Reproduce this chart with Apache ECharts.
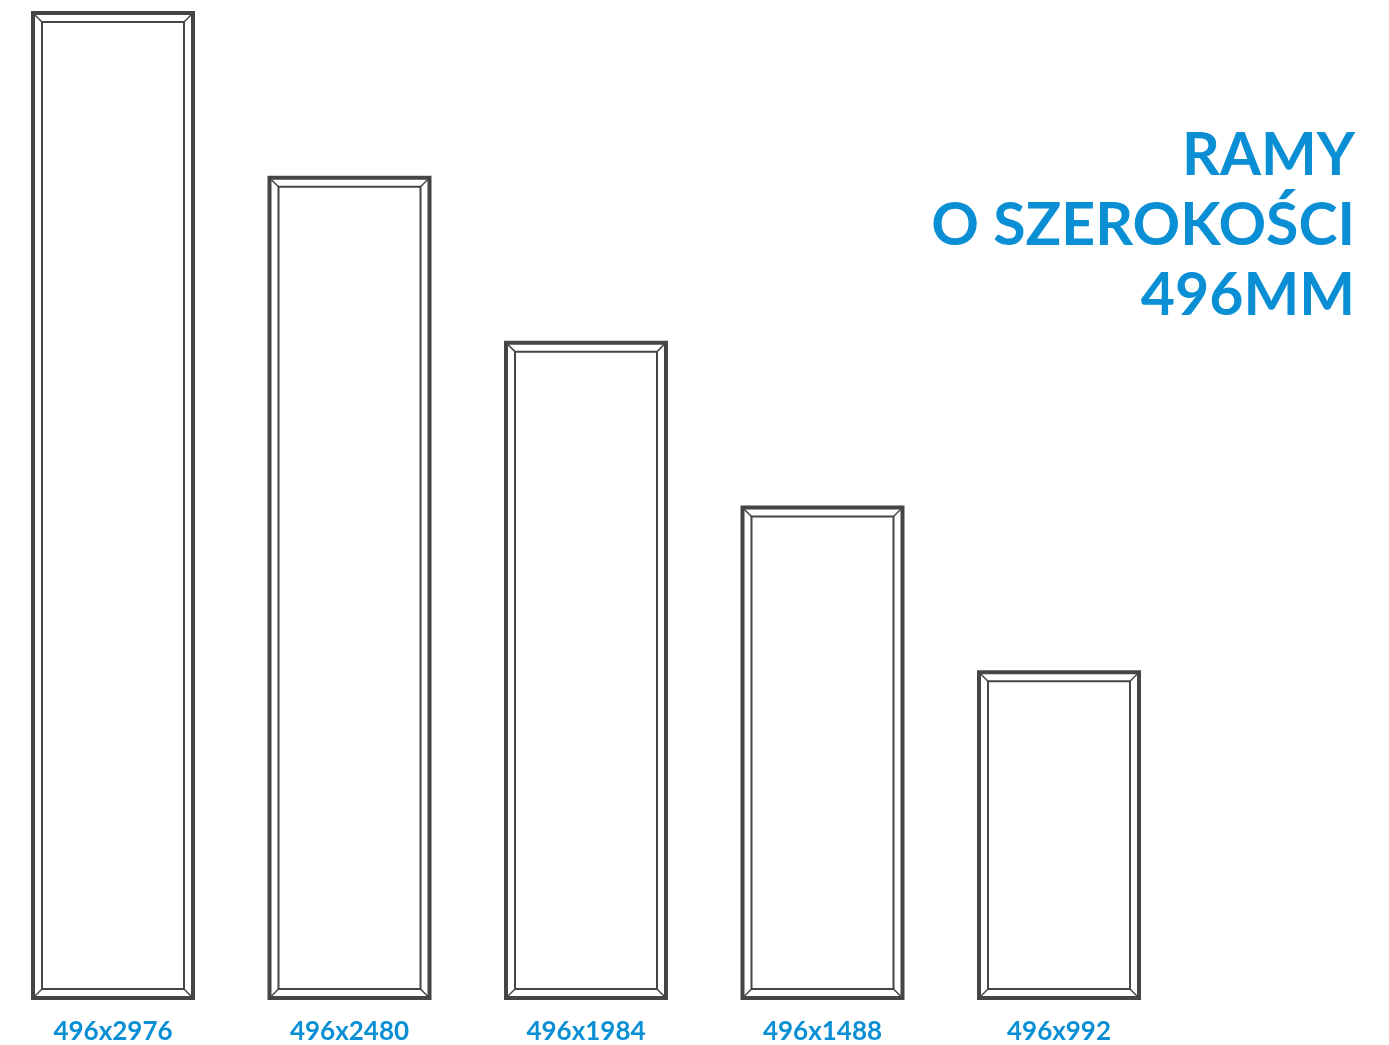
<!DOCTYPE html>
<html lang="pl">
<head>
    <meta charset="UTF-8">
    <title>Ramy o szerokości 496mm</title>
    <script src="https://cdn.jsdelivr.net/npm/echarts@6/dist/echarts.min.js"></script>
    <style>
        html, body { margin: 0; padding: 0; background: #fff; }
        #main { width: 1389px; height: 1045px; }
    </style>
</head>
<body>
<div id="main"></div>
<script type="text/javascript">
    // wymiary ram (szerokość x wysokość w mm)
    var categories = ['496x2976', '496x2480', '496x1984', '496x1488', '496x992'];
    var heights = [2976, 2480, 1984, 1488, 992];
    var titleLines = ['RAMY', 'O SZEROKOŚCI', '496MM'];

    var myChart = echarts.init(document.getElementById('main'));

    var blue = '#0a8fd5';
    var frameColor = '#454545';

    // rysowanie jednej ramy: obrys, wewnętrzna linia i skosy w rogach
    function renderFrame(params, api) {
        var top = api.coord([api.value(0), api.value(1)]);
        var base = api.coord([api.value(0), 0]);
        var w = 164;
        var x0 = top[0] - w / 2, x1 = top[0] + w / 2;
        var y0 = top[1], y1 = base[1];
        var d = 11;
        var ow = 4, iw = 2;
        var style = {stroke: frameColor, fill: null};
        return {
            type: 'group',
            children: [
                {type: 'rect', shape: {x: x0 + ow / 2, y: y0 + ow / 2, width: w - ow, height: y1 - y0 - ow},
                    style: Object.assign({lineWidth: ow}, style)},
                {type: 'rect', shape: {x: x0 + d, y: y0 + d, width: w - 2 * d, height: y1 - y0 - 2 * d},
                    style: Object.assign({lineWidth: iw}, style)},
                {type: 'line', shape: {x1: x0 + 2, y1: y0 + 2, x2: x0 + d, y2: y0 + d}, style: {stroke: frameColor, lineWidth: 1.5}},
                {type: 'line', shape: {x1: x1 - 2, y1: y0 + 2, x2: x1 - d, y2: y0 + d}, style: {stroke: frameColor, lineWidth: 1.5}},
                {type: 'line', shape: {x1: x0 + 2, y1: y1 - 2, x2: x0 + d, y2: y1 - d}, style: {stroke: frameColor, lineWidth: 1.5}},
                {type: 'line', shape: {x1: x1 - 2, y1: y1 - 2, x2: x1 - d, y2: y1 - d}, style: {stroke: frameColor, lineWidth: 1.5}}
            ]
        };
    }

    // każda linia tytułu osobno, wyrównana do prawej
    var titles = titleLines.map(function (t, i) {
        return {
            text: t,
            right: 34,
            top: 126 + i * 70,
            padding: 0,
            textStyle: {
                color: blue,
                fontFamily: 'Lato',
                fontWeight: 'bold',
                fontSize: 59
            }
        };
    });

    myChart.setOption({
        animation: false,
        title: titles,
        grid: {left: 113, right: 330, top: 3, bottom: 45},
        xAxis: {
            type: 'category',
            data: categories,
            boundaryGap: false,
            axisLine: {show: false},
            axisTick: {show: false},
            axisLabel: {
                margin: 19,
                color: blue,
                fontFamily: 'Lato',
                fontWeight: 'bold',
                fontSize: 26
            }
        },
        yAxis: {
            type: 'value',
            min: 0,
            max: 3000,
            show: false,
            splitLine: {show: false}
        },
        series: [{
            type: 'custom',
            renderItem: renderFrame,
            data: heights.map(function (h, i) { return [i, h]; })
        }]
    });
</script>
</body>
</html>
